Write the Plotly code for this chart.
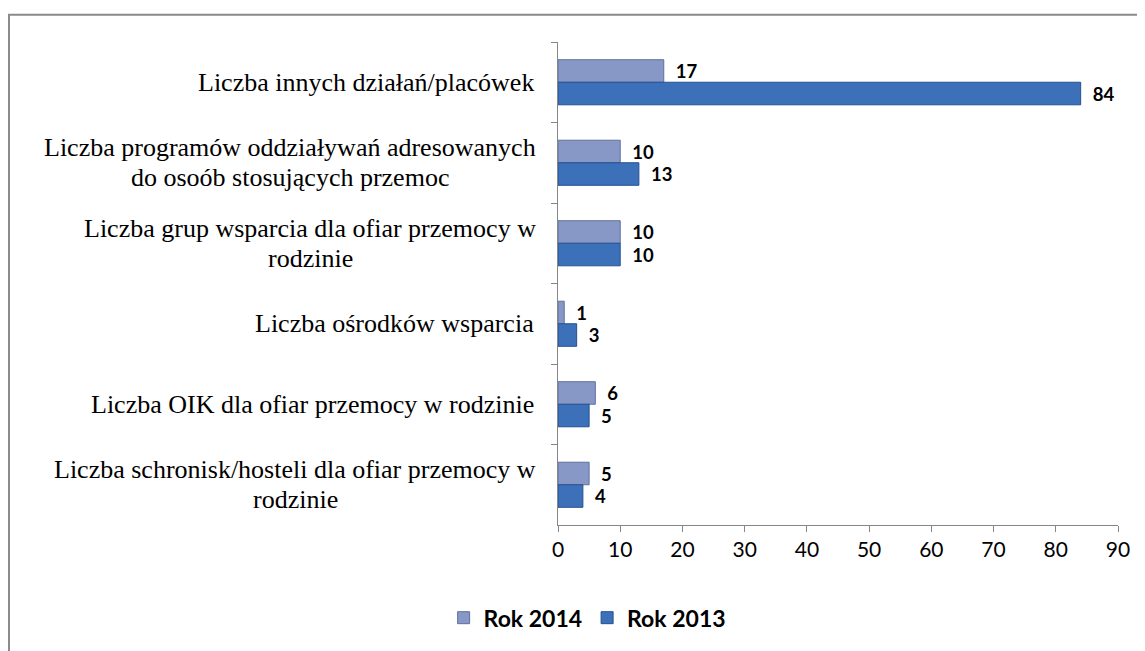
import plotly.graph_objects as go

categories = [
    "Liczba innych działań/placówek",
    "Liczba programów oddziaływań adresowanych<br>do osoób stosujących przemoc",
    "Liczba grup wsparcia dla ofiar przemocy w<br>rodzinie",
    "Liczba ośrodków wsparcia",
    "Liczba OIK dla ofiar przemocy w rodzinie",
    "Liczba schronisk/hosteli dla ofiar przemocy w<br>rodzinie",
]
keys = ["c%d" % i for i in range(len(categories))]
rok_2014 = [17, 10, 10, 1, 6, 5]
rok_2013 = [84, 13, 10, 3, 5, 4]
x_ticks = [0, 10, 20, 30, 40, 50, 60, 70, 80, 90]

# layout helper: approximate pixel width of the first line of each
# multi-line label (Liberation Serif 26px), used to centre the lines
first_line_px = [0, 490, 450, 0, 0, 480]

label_font = dict(family="Lato", size=23, color="#000000", weight="bold")
cat_font = dict(family="Liberation Serif", size=26, color="#000000")
GAP = 23
LINE = 30

fig = go.Figure()
fig.add_trace(go.Bar(
    y=keys, x=rok_2014, orientation="h", name="Rok 2014",
    marker=dict(color="#8798c6", line=dict(color="#5f719e", width=1)),
    text=["  " + str(v) for v in rok_2014], textposition="outside",
    textfont=label_font, cliponaxis=False,
))
fig.add_trace(go.Bar(
    y=keys, x=rok_2013, orientation="h", name="Rok 2013",
    marker=dict(color="#3c71ba", line=dict(color="#24518f", width=1)),
    text=["  " + str(v) for v in rok_2013], textposition="outside",
    textfont=label_font, cliponaxis=False,
))

annotations = []
for k, lab, w in zip(keys, categories, first_line_px):
    lines = lab.split("<br>")
    if len(lines) == 1:
        annotations.append(dict(
            x=0, xref="paper", y=k, yref="y", text=lab, showarrow=False,
            xanchor="right", yanchor="middle", xshift=-GAP, font=cat_font,
            borderpad=0,
        ))
    else:
        n = len(lines)
        for i, line in enumerate(lines):
            annotations.append(dict(
                x=0, xref="paper", y=k, yref="y", text=line, showarrow=False,
                xanchor="center", yanchor="middle", borderpad=0,
                xshift=-(GAP + w / 2), yshift=(n - 1) * LINE / 2 - i * LINE,
                font=cat_font,
            ))

fig.update_layout(
    width=1137, height=643,
    margin=dict(l=550, r=27, t=34, b=124),
    paper_bgcolor="#ffffff", plot_bgcolor="#ffffff",
    barmode="group", bargap=0.44, bargroupgap=0,
    showlegend=True,
    legend=dict(orientation="h", x=0.052, xanchor="center", y=-0.192, yanchor="middle",
                font=dict(family="Lato", size=23, color="#000000", weight="bold"),
                traceorder="normal"),
    annotations=annotations,
    shapes=[dict(type="rect", xref="paper", yref="paper", x0=-0.9804, x1=1.3,
                 y0=-0.6, y1=1.0565, line=dict(color="#8a8a8a", width=2))],
    xaxis=dict(range=[0, 90], tickvals=x_ticks, showgrid=False, zeroline=False,
               showline=True, linecolor="#868686", linewidth=1,
               ticks="outside", ticklen=6, tickcolor="#868686",
               tickfont=dict(family="Lato", size=21, color="#000000")),
    yaxis=dict(categoryorder="array", categoryarray=keys, autorange="reversed",
               showticklabels=False, showgrid=False, zeroline=False,
               showline=True, linecolor="#868686", linewidth=1,
               ticks="outside", ticklen=6, tickcolor="#868686", tickson="boundaries"),
)
fig.write_html("out.html")
